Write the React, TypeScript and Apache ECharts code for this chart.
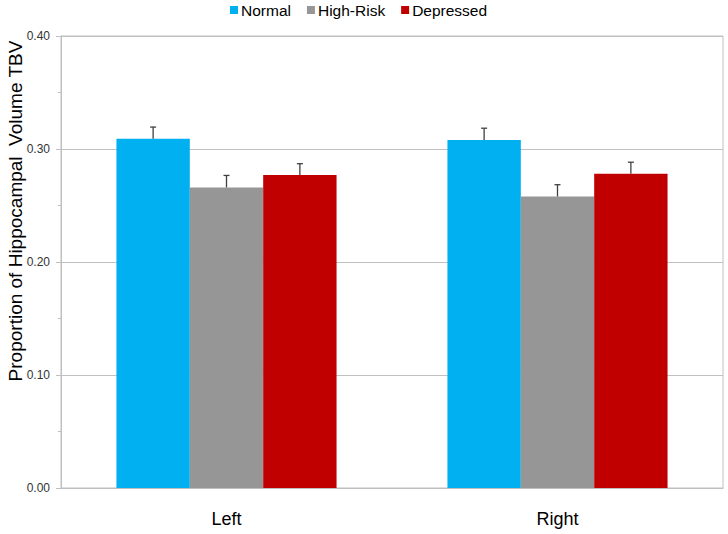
import React, { useEffect, useRef } from "react";
import * as echarts from "echarts";

const categories = ["Left", "Right"];
const seriesNames = ["Normal", "High-Risk", "Depressed"];
const colors = ["#00b0f0", "#969696", "#c00000"];
const normalValues = [0.309, 0.308];
const highRiskValues = [0.266, 0.258];
const depressedValues = [0.277, 0.278];
const normalErrors = [0.0104, 0.0104];
const highRiskErrors = [0.0106, 0.0104];
const depressedErrors = [0.0100, 0.0103];
const yTicks = [0, 0.1, 0.2, 0.3, 0.4];
const yAxisTitle = "Proportion of Hippocampal  Volume TBV";

const CAT_GAP = 0.335;

export default function App() {
  const ref = useRef<HTMLDivElement>(null);
  useEffect(() => {
    if (!ref.current) return;
    const chart = echarts.init(ref.current, null, { renderer: "svg" });
    const values = [normalValues, highRiskValues, depressedValues];
    const errors = [normalErrors, highRiskErrors, depressedErrors];
    const barSeries = seriesNames.map((name, i) => ({
      name,
      type: "bar",
      data: values[i],
      barGap: "0%",
      barCategoryGap: CAT_GAP * 100 + "%",
      itemStyle: { color: colors[i] },
      z: 2,
    }));
    const errSeries = seriesNames.map((name, i) => ({
      name: name + "-err",
      type: "custom",
      z: 3,
      data: values[i].map((v, j) => [j, v, v + errors[i][j]]),
      renderItem: (params: any, api: any) => {
        const band = api.size([1, 0])[0];
        const barW = (band * (1 - CAT_GAP)) / 3;
        const off = (i - 1) * barW;
        const p0 = api.coord([api.value(0), api.value(1)]);
        const p1 = api.coord([api.value(0), api.value(2)]);
        const x = p0[0] + off;
        const style = { stroke: "#404040", lineWidth: 1.3 };
        return {
          type: "group",
          children: [
            { type: "line", shape: { x1: x, y1: p0[1], x2: x, y2: p1[1] }, style },
            { type: "line", shape: { x1: x - 3, y1: p1[1], x2: x + 3, y2: p1[1] }, style },
          ],
        };
      },
    }));
    chart.setOption({
      animation: false,
      textStyle: { fontFamily: "Liberation Sans, Arial, sans-serif" },
      legend: {
        data: seriesNames,
        top: 2,
        left: 230,
        padding: 0,
        itemWidth: 8,
        itemHeight: 8,
        itemGap: 16,
        icon: "rect",
        textStyle: { fontSize: 15.5, color: "#000", padding: [0, 0, 0, -2] },
      },
      graphic: [
        {
          type: "text",
          x: 15,
          y: 211,
          rotation: Math.PI / 2,
          style: {
            text: yAxisTitle,
            fontSize: 19,
            fill: "#000",
            fontFamily: "Liberation Sans, Arial, sans-serif",
            align: "center",
            verticalAlign: "middle",
          },
        },
      ],
      grid: {
        left: 61,
        right: 5,
        top: 36,
        bottom: 46,
        outerBoundsMode: "none",
        containLabel: false,
        show: true,
        borderColor: "#c0c0c0",
        borderWidth: 1,
      },
      xAxis: {
        type: "category",
        data: categories,
        axisLine: { lineStyle: { color: "#bfbfbf" } },
        axisTick: { show: false },
        axisLabel: { fontSize: 18, color: "#000", margin: 22 },
      },
      yAxis: {
        type: "value",
        min: 0,
        max: 0.4,
        interval: 0.1,
        axisLine: { show: true, lineStyle: { color: "#bfbfbf" } },
        axisTick: { show: true, length: 5, lineStyle: { color: "#bfbfbf" } },
        minorTick: { show: true, splitNumber: 2, length: 3, lineStyle: { color: "#bfbfbf" } },
        splitLine: { lineStyle: { color: "#c0c0c0" } },
        axisLabel: {
          fontSize: 12,
          color: "#333",
          margin: 11,
          formatter: (v: number) => (yTicks.includes(Math.round(v * 10) / 10) ? v.toFixed(2) : ""),
        },
      },
      series: [...barSeries, ...errSeries],
    });
    return () => chart.dispose();
  }, []);
  return <div ref={ref} style={{ width: 728, height: 534, position: "absolute", left: 0, top: 0 }} />;
}
